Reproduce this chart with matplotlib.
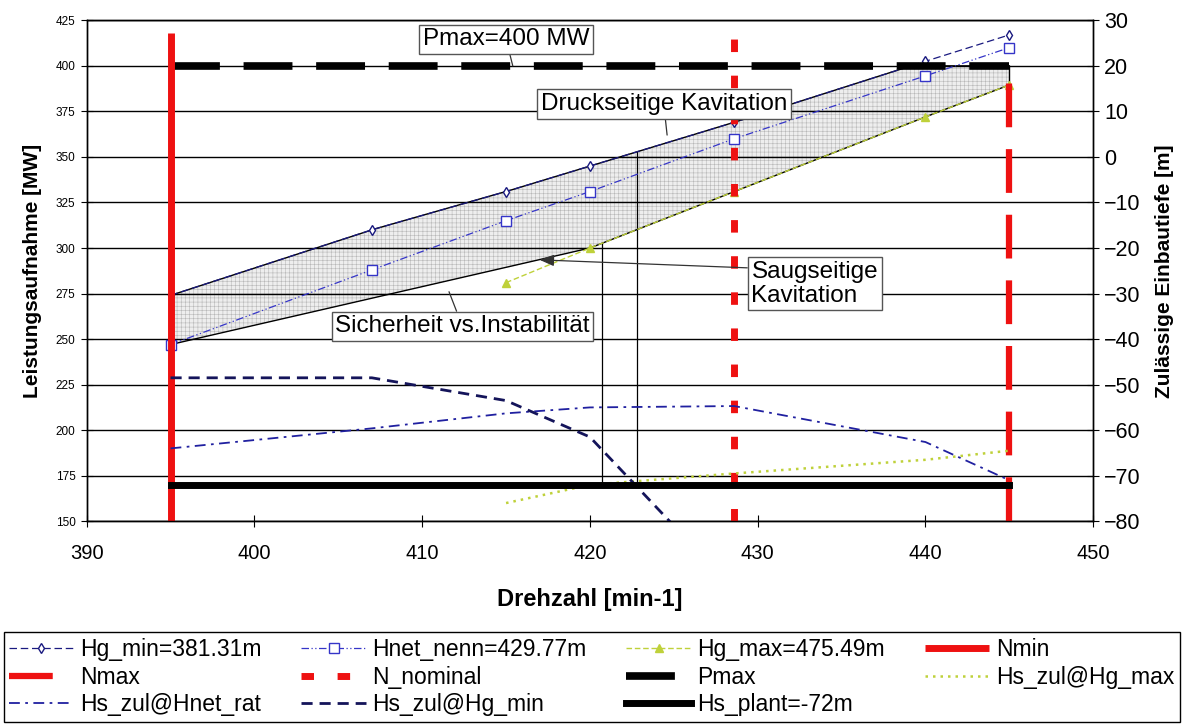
import numpy as np
import matplotlib
matplotlib.use('Agg')
from matplotlib import pyplot as plt

plt.rcParams['font.family'] = ['Liberation Sans', 'DejaVu Sans']
plt.rcParams['hatch.linewidth'] = 0.4

# Drehzahl-Stuetzstellen [min-1]
speed = [395, 407, 415, 420, 428.6, 440, 445]
# Leistungsaufnahme [MW]
hg_min = [274, 310, 331, 345, 369, 402.5, 417]
hnet_nenn = [247, 288, 315, 331, 360, 394.5, 410]
speed_hgmax = [415, 420, 428.6, 440, 445]
hg_max = [281, 300, 331, 372, 389.5]
# Zulaessige Einbautiefe [m]
hs_hgmax = [-76, -72, -69.5, -66.5, -64.5]
hs_hnet = [-64, -59.6, -56.3, -55, -54.7, -62.6, -71]
speed_hgmin_hs = [395, 407, 415, 420, 428.6]
hs_hgmin = [-48.5, -48.5, -53.5, -61.5, -95]

n_min = 395
n_max = 445
n_nominal = 428.6
p_max = 400
hs_plant = -72
n_line_top = 418          # obere Enden der Drehzahllinien Nmin / N_nominal
opt_speeds = [420.7, 422.8]

left_lim = (150, 425)
right_lim = (-80, 30)


def hs_to_p(h):
    return left_lim[0] + (h - right_lim[0]) * (left_lim[1] - left_lim[0]) / (right_lim[1] - right_lim[0])


fig = plt.figure(figsize=(11.87, 7.25), dpi=100)
ax = fig.add_axes([0.073, 0.281, 0.848, 0.691])
ax2 = ax.twinx()

# schraffierter Betriebsbereich
lower_x = [speed[0]] + speed_hgmax[1:]
lower_y = [hnet_nenn[0]] + hg_max[1:]
xs = np.linspace(n_min, n_max, 400)
upper = np.minimum(np.interp(xs, speed, hg_min), p_max)
lower = np.interp(xs, lower_x, lower_y)
ax.fill_between(xs, lower, upper, facecolor='#eeeeee', edgecolor='#b8b8b8', hatch='++++', linewidth=0, zorder=1)
ax.plot(xs, upper, color='black', lw=1.0, zorder=2.2)
ax.plot(xs, lower, color='black', lw=1.0, zorder=2.2)
ax.plot([n_max, n_max], [lower[-1], upper[-1]], color='black', lw=1.0, zorder=2.2)

# Begrenzungen des Drehzahlbereichs
tops = [np.interp(opt_speeds[0], lower_x, lower_y), np.interp(opt_speeds[1], speed, hg_min)]
for s, top in zip(opt_speeds, tops):
    ax.plot([s, s], [hs_to_p(hs_plant), top], color='black', lw=0.9, zorder=2.1)

l_hgmin, = ax.plot(speed, hg_min, color='#1a1a80', lw=0.9, ls=(0, (6, 3)), marker='d',
                   ms=5, mfc='white', mec='#1a1a80', label='Hg_min=381.31m', zorder=3)
l_hnet, = ax.plot(speed, hnet_nenn, color='#3535c8', lw=0.9, ls=(0, (6, 2, 1, 2, 1, 2)), marker='s',
                  ms=7, mfc='white', mec='#3535c8', label='Hnet_nenn=429.77m', zorder=3)
l_hgmax, = ax.plot(speed_hgmax, hg_max, color='#bfd13a', lw=1.0, ls=(0, (4, 2)), marker='^',
                   ms=6, label='Hg_max=475.49m', zorder=3)

l_nmin, = ax.plot([n_min, n_min], [left_lim[0], n_line_top], color='#ee1111', lw=5,
                  solid_capstyle='butt', label='Nmin', zorder=4)
l_nmax, = ax.plot([n_max, n_max], [left_lim[0], p_max], color='#ee1111', lw=4.5, ls=(0, (7, 3.5)),
                  label='Nmax', zorder=4)
l_nnom, = ax.plot([n_nominal, n_nominal], [left_lim[0], n_line_top], color='#ee1111', lw=5,
                  ls=(0, (1.8, 3.4)), label='N_nominal', zorder=4)
l_pmax, = ax.plot([n_min, n_max], [p_max, p_max], color='black', lw=5.5, ls=(0, (6.4, 3.1)),
                  label='Pmax', zorder=3.5)

l_hs_max, = ax2.plot(speed_hgmax, hs_hgmax, color='#bfd13a', lw=1.8, ls=(0, (1, 2)),
                     label='Hs_zul@Hg_max', zorder=3)
l_hs_net, = ax2.plot(speed, hs_hnet, color='#2020a0', lw=1.3, ls=(0, (6, 3, 1.5, 3)),
                     label='Hs_zul@Hnet_rat', zorder=3)
l_hs_min, = ax2.plot(speed_hgmin_hs, hs_hgmin, color='#14145a', lw=2.0, ls=(0, (4, 2.5)),
                     label='Hs_zul@Hg_min', zorder=3)
l_plant, = ax2.plot([n_min, n_max], [hs_plant, hs_plant], color='black', lw=5,
                    label='Hs_plant=-72m', zorder=3)

ax.set_xlim(390, 450)
ax.set_ylim(*left_lim)
ax2.set_ylim(*right_lim)
ax.set_xticks(np.arange(390, 451, 10))
ax.set_yticks(np.arange(150, 426, 25))
ax2.set_yticks(np.arange(-80, 31, 10))
ax.grid(axis='y', color='black', lw=1.0)
ax.tick_params(axis='x', direction='inout', length=9, labelsize=14.5, pad=12)
ax.tick_params(axis='y', direction='inout', length=9, labelsize=8.5)
ax2.tick_params(axis='y', direction='inout', length=9, labelsize=15.5)
for a in (ax, ax2):
    for sp in a.spines.values():
        sp.set_color('black')
        sp.set_linewidth(1.0)

ax.set_xlabel('Drehzahl [min-1]', fontsize=17, fontweight='bold', labelpad=18)
ax.set_ylabel('Leistungsaufnahme [MW]', fontsize=15, fontweight='bold', labelpad=10)
ax2.set_ylabel('Zulässige Einbautiefe [m]', fontsize=15, fontweight='bold', labelpad=10)

box = dict(boxstyle='square,pad=0.15', fc='white', ec='#555555', lw=1.0)
lead = dict(arrowstyle='-', color='#333333', lw=0.9, shrinkA=0, shrinkB=0)
ax2.annotate('Pmax=400 MW', xy=(415.4, 20), xytext=(415.0, 25.8),
             fontsize=17.5, ha='center', va='center', bbox=box, arrowprops=lead, zorder=6)
ax2.annotate('Druckseitige Kavitation', xy=(424.6, 4.8), xytext=(424.4, 11.6),
             fontsize=17.5, ha='center', va='center', bbox=box, arrowprops=lead, zorder=6)
ax2.annotate('Saugseitige\nKavitation', xy=(417, -22.6), xytext=(433.4, -27.9),
             fontsize=17.5, ha='center', va='center', multialignment='left', bbox=box,
             linespacing=1.1, zorder=6,
             arrowprops=dict(arrowstyle='-|>,head_length=0.5,head_width=0.2', color='#333333',
                             lw=0.9, shrinkA=0, shrinkB=0, relpos=(0, 0.85)))
ax2.annotate('Sicherheit vs.Instabilität', xy=(411.6, -29.6), xytext=(412.4, -37.2),
             fontsize=17.5, ha='center', va='center', bbox=box, arrowprops=lead, zorder=6)

handles = [l_hgmin, l_nmax, l_hs_net,
           l_hnet, l_nnom, l_hs_min,
           l_hgmax, l_pmax, l_plant,
           l_nmin, l_hs_max]
fig.legend(handles, [h.get_label() for h in handles], ncol=4, loc='lower left',
           bbox_to_anchor=(0.003, 0.004, 0.991, 0.12), mode='expand', fancybox=False,
           edgecolor='black', framealpha=1, fontsize=16.5, handlelength=2.8, borderaxespad=0,
           labelspacing=0.2, handletextpad=0.3, borderpad=0.25)

plt.savefig('out.png')
